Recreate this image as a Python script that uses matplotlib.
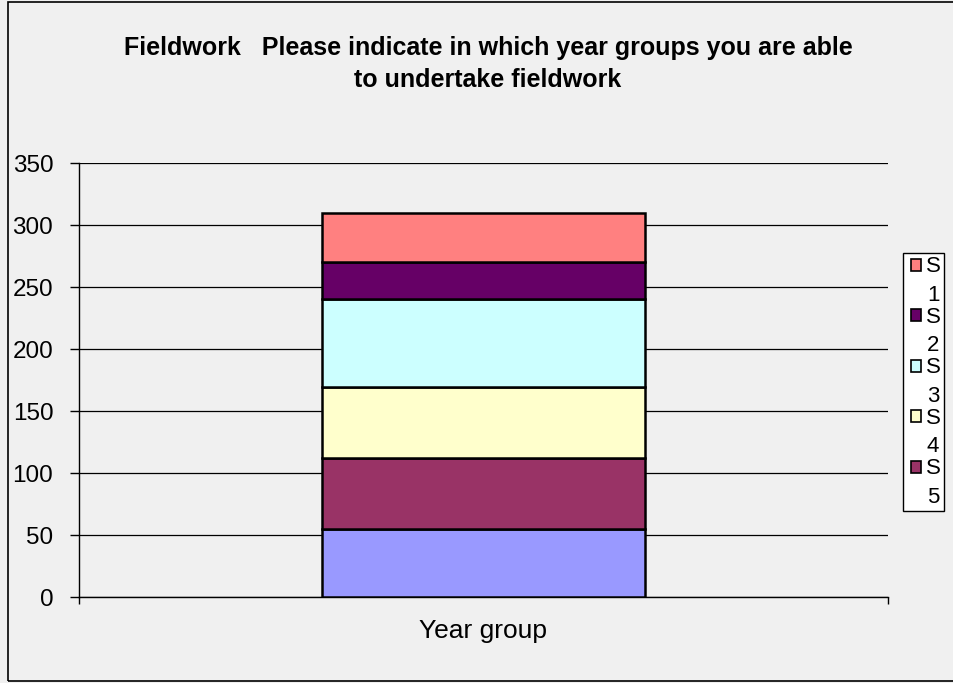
import matplotlib.pyplot as plt
from matplotlib.patches import Rectangle
from matplotlib.legend_handler import HandlerPatch

# stacked segments, bottom to top
categories = ['Year group']
series_names = ['S6', 'S5', 'S4', 'S3', 'S2', 'S1']
series_values = [55, 57, 57, 71, 30, 40]
series_colors = ['#9999FF', '#993366', '#FFFFCC', '#CCFFFF', '#660066', '#FF8080']
y_ticks = [0, 50, 100, 150, 200, 250, 300, 350]
legend_shown = ['S1', 'S2', 'S3', 'S4', 'S5']

plt.rcParams['font.family'] = ['Liberation Sans', 'DejaVu Sans']


class FirstLineSquare(HandlerPatch):
    # put the colour square next to the first line of a wrapped label
    def create_artists(self, legend, orig_handle, xdescent, ydescent, width, height,
                       fontsize, trans):
        p = Rectangle((-xdescent + 0.22 * fontsize, -ydescent + 0.73 * fontsize), width, height,
                      facecolor=orig_handle.get_facecolor(), edgecolor='black',
                      linewidth=1.2, transform=trans)
        return [p]


bg = '#F0F0F0'
fig = plt.figure(figsize=(9.54, 6.83), dpi=100, facecolor=bg)
W, H = 954, 683
ax = fig.add_axes([79 / W, (H - 597) / H, (888 - 79) / W, (597 - 163) / H])
ax.set_facecolor(bg)

# outer chart border
fig.patches.append(Rectangle((8 / W, 2 / H), 1.0, 1 - 4 / H, transform=fig.transFigure,
                             fill=False, edgecolor='black', linewidth=1.2))

bottom = 0
bars = {}
for name, val, col in zip(series_names, series_values, series_colors):
    b = ax.bar(0, val, width=0.4, bottom=bottom, color=col, edgecolor='black',
               linewidth=1.8, zorder=3)
    bars[name] = b
    bottom += val

ax.set_xlim(-0.5, 0.5)
ax.set_ylim(0, 350)
ax.set_yticks(y_ticks)
ax.set_yticklabels([str(t) for t in y_ticks], fontsize=17.5)
ax.tick_params(axis='y', length=6.5, width=1, color='black', pad=12)
ax.set_xticks([-0.5, 0.5])
ax.set_xticklabels(['', ''])
ax.tick_params(axis='x', length=5, width=1, color='black')
ax.text(0, -0.078, categories[0], transform=ax.get_xaxis_transform(), ha='center',
        va='center', fontsize=19)
ax.yaxis.grid(True, color='black', linewidth=0.9, zorder=0)
for side in ['top', 'right']:
    ax.spines[side].set_visible(False)
ax.spines['left'].set_linewidth(1)
ax.spines['bottom'].set_linewidth(1)

fig.text(488 / W, 1 - 48 / H, 'Fieldwork   Please indicate in which year groups you are able',
         ha='center', va='center', fontsize=18, fontweight='bold')
fig.text(488 / W, 1 - 80 / H, 'to undertake fieldwork', ha='center', va='center',
         fontsize=18, fontweight='bold')

handles = [bars[n][0] for n in legend_shown]
labels = ['S\n' + n[1:] for n in legend_shown]
leg = fig.legend(handles, labels, loc='upper left', bbox_to_anchor=(903 / W, 1 - 253 / H),
                 fontsize=16, frameon=True, fancybox=False, edgecolor='black',
                 facecolor='white', framealpha=1, handlelength=0.45, handleheight=0.45,
                 handletextpad=0.42, borderpad=0.15, labelspacing=0.06, borderaxespad=0,
                 handler_map={Rectangle: FirstLineSquare()})
leg.get_frame().set_linewidth(1)
for t in leg.get_texts():
    t.set_linespacing(1.45)
    t.set_multialignment('center')

fig.savefig('out.png', dpi=100, facecolor=bg)
